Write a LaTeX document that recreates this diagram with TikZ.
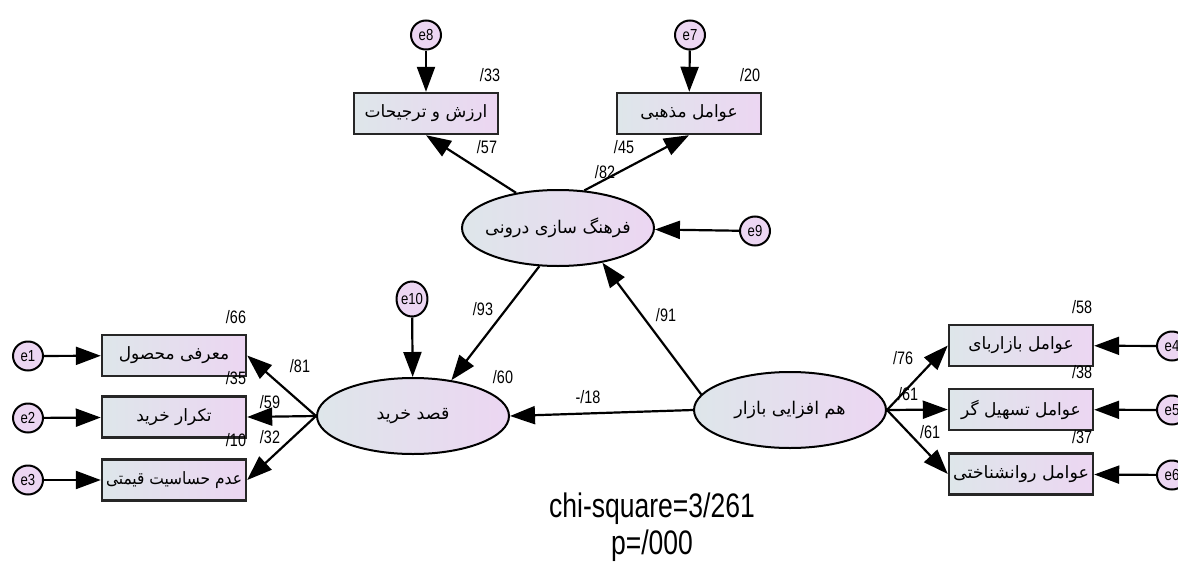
\documentclass[tikz,border=0pt]{standalone}
\usepackage{fontspec}
\usepackage{graphicx}
\setmainfont{Liberation Sans}
\newfontfamily\fa[Script=Arabic]{DejaVu Sans}
\TeXXeTstate=1
\usetikzlibrary{arrows.meta,shapes.geometric}
\definecolor{gL}{RGB}{222,230,234}
\definecolor{gR}{RGB}{236,214,242}
\tikzset{
 obs/.style={draw=black!85, line width=2.4pt, left color=gL, right color=gR, minimum width=144pt, minimum height=41pt, inner sep=0pt, font=\fa\fontsize{17}{17}\selectfont},
 lat/.style={ellipse, draw=black, line width=2pt, left color=gL, right color=gR, minimum width=192pt, minimum height=76pt, inner sep=0pt, font=\fa\fontsize{17.5}{17.5}\selectfont},
 err/.style={ellipse, draw=black, line width=2pt, fill=gR, minimum width=30pt, minimum height=29pt, inner sep=0pt, font=\fontsize{16}{16}\selectfont},
 lbl/.style={font=\fontsize{18}{18}\selectfont, xscale=.8, inner sep=0pt},
 arr/.style={line width=2.2pt, -{Triangle[length=25pt,width=18pt]}},
}
\newcommand{\ee}[1]{\scalebox{.82}[1]{#1}}
\newcommand{\rtl}[1]{\beginR #1\endR}
\newcommand{\lt}[1]{\makebox[0pt][c]{\beginR #1\endR}}
\newcommand{\fit}[1]{\resizebox{136pt}{\height}{\beginR #1\endR}}
\begin{document}
\begin{tikzpicture}[x=1pt,y=-1pt]
\useasboundingbox (0,0) rectangle (1178,565);
% top
\node[err] (e8) at (426,35) {\ee{e8}};
\node[err] (e7) at (690,35) {\ee{e7}};
\node[obs] (b8) at (426,113.5) {\rtl{ارزش و ترجیحات}};
\node[obs] (b7) at (689,113.5) {\rtl{عوامل مذهبی}};
\node[lat] (F) at (558,228) {\lt{فرهنگ سازی درونی}};
\node[err] (e9) at (755,231) {\ee{e9}};
% left
\node[err] (e1) at (28,356) {\ee{e1}};
\node[err] (e2) at (28,418) {\ee{e2}};
\node[err] (e3) at (28,480) {\ee{e3}};
\node[obs] (b1) at (174,355.5) {\rtl{معرفی محصول}};
\node[obs] (b2) at (174,417) {\rtl{تکرار خرید}};
\node[obs] (b3) at (174,480) {\fit{عدم حساسیت قیمتی}};
\node[lat] (Q) at (413,416) {\lt{قصد خرید}};
\node[err, minimum height=35pt] (e10) at (412,299) {\ee{e10}};
% right
\node[lat] (H) at (790,410) {\lt{هم افزایی بازار}};
\node[obs] (b4) at (1021,345.5) {\rtl{عوامل بازاربای}};
\node[obs] (b5) at (1021,409.5) {\rtl{عوامل تسهیل گر}};
\node[obs] (b6) at (1021,474) {\fit{عوامل روانشناختی}};
\node[err] (e4) at (1172,346) {\ee{e4}};
\node[err] (e5) at (1172,410) {\ee{e5}};
\node[err] (e6) at (1172,475) {\ee{e6}};
% arrows
\draw[arr] (e8) -- (b8);
\draw[arr] (e7) -- (b7);
\draw[arr] (F.140) -- (b8.south);
\draw[arr] (F.55) -- (b7.south);
\draw[arr] (e9) -- (F);
\draw[arr] (F.244) -- (Q.43);
\draw[arr] (H.170) -- (F.322);
\draw[arr] (H.west) -- (Q.east);
\draw[arr] (e10) -- (Q);
\draw[arr] (Q.west) -- (b1.east);
\draw[arr] (Q.west) -- (b2.east);
\draw[arr] (Q.west) -- (b3.east);
\draw[arr] (e1) -- (b1);
\draw[arr] (e2) -- (b2);
\draw[arr] (e3) -- (b3);
\draw[arr] (H.east) -- (b4.west);
\draw[arr] (H.east) -- (b5.west);
\draw[arr] (H.east) -- (b6.west);
\draw[arr] (e4) -- (b4);
\draw[arr] (e5) -- (b5);
\draw[arr] (e6) -- (b6);
% labels
\node[lbl] (l33) at (490,75) {/33};
\node[lbl] (l20) at (750,75) {/20};
\node[lbl] (l57) at (487,147) {/57};
\node[lbl] (l45) at (624,147) {/45};
\node[lbl] (l82) at (605,172) {/82};
\node[lbl] (l93) at (483,309) {/93};
\node[lbl] (l91) at (666,315) {/91};
\node[lbl] (l60) at (503,377) {/60};
\node[lbl] (l18) at (588,397) {-/18};
\node[lbl] (l66) at (236,317) {/66};
\node[lbl] (l35) at (236,378) {/35};
\node[lbl] (l10) at (236,440) {/10};
\node[lbl] (l81) at (300,366) {/81};
\node[lbl] (l59) at (270,402) {/59};
\node[lbl] (l32) at (270,437) {/32};
\node[lbl] (l58) at (1082,307) {/58};
\node[lbl] (l38) at (1082,372) {/38};
\node[lbl] (l37) at (1082,437) {/37};
\node[lbl] (l76) at (903,358) {/76};
\node[lbl] (l61a) at (908,394) {/61};
\node[lbl] (l61b) at (930,432) {/61};
\node[font=\fontsize{34}{34}\selectfont, xscale=.78, inner sep=0pt] (chi) at (652,509) {chi-square=3/261};
\node[font=\fontsize{34}{34}\selectfont, xscale=.78, inner sep=0pt] (pv) at (652,546) {p=/000};
\end{tikzpicture}
\end{document}
